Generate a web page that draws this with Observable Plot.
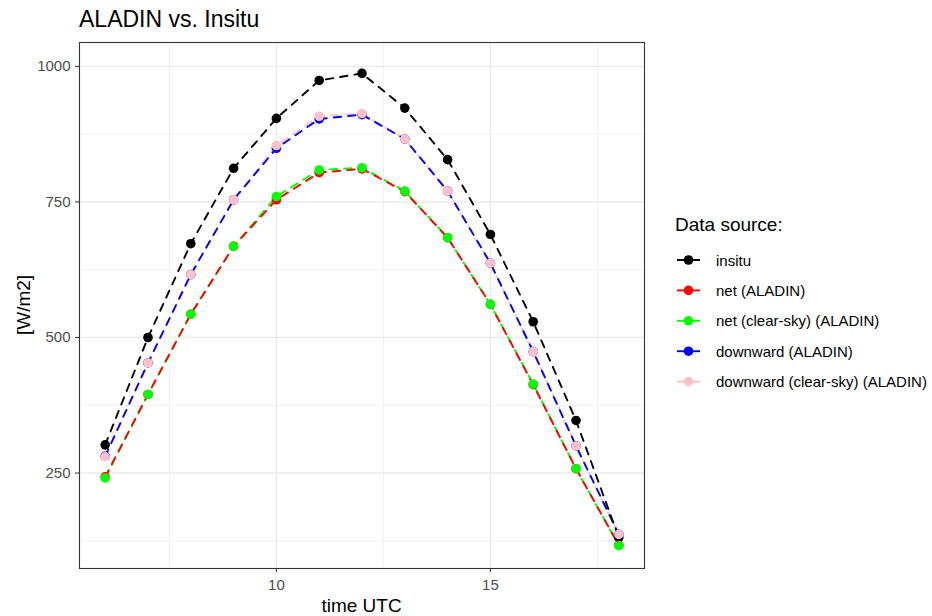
<!DOCTYPE html>
<html>
<head>
<meta charset="utf-8">
<script src="https://cdn.jsdelivr.net/npm/d3@7"></script>
<script src="https://cdn.jsdelivr.net/npm/@observablehq/plot@0.6"></script>
<style>
  body { margin: 0; background: #fff; }
  #wrap { position: relative; width: 932px; height: 616px; overflow: hidden; background: #fff; }
  #wrap svg { position: absolute; left: 0; top: 0; }
</style>
</head>
<body>
<div id="wrap"></div>
<script>
// ---- data ----
const hours = [6, 7, 8, 9, 10, 11, 12, 13, 14, 15, 16, 17, 18];
const insitu       = [302, 500, 673, 812, 904, 974, 987, 923, 828, 690, 529, 347, 131];
const netAladin    = [243, 395, 543, 668, 754, 804, 811, 769, 684, 561, 413, 258, 117];
const netClearSky  = [241, 395, 543, 668, 760, 809, 813, 770, 684, 561, 414, 258, 116];
const downAladin   = [281, 453, 616, 754, 849, 903, 911, 866, 770, 637, 474, 300, 137];
const downClearSky = [280, 453, 616, 754, 854, 908, 913, 866, 770, 637, 474, 300, 137];
const seriesNames = ["insitu", "net (ALADIN)", "net (clear-sky) (ALADIN)", "downward (ALADIN)", "downward (clear-sky) (ALADIN)"];
const seriesValues = [insitu, netAladin, netClearSky, downAladin, downClearSky];
const seriesColors = ["#000000", "#FF0000", "#00FF00", "#0000FF", "#FFC0CB"];
const yTicks = [250, 500, 750, 1000];
const yMinor = [125, 375, 625, 875];
const xTicks = [10, 15];
const xMinor = [7.5, 12.5, 17.5];
const titleText = "ALADIN vs. Insitu";
const xLabel = "time UTC";
const yLabel = "[W/m2]";
const legendTitle = "Data source:";

// ---- long tables ----
const table = [];
seriesNames.forEach((name, i) => {
  hours.forEach((h, j) => table.push({hour: h, value: seriesValues[i][j], series: name}));
});
// lines are drawn in reverse series order (later series underneath), points in legend order
const lineTable = [];
seriesNames.slice().reverse().forEach((name) => {
  const i = seriesNames.indexOf(name);
  hours.forEach((h, j) => lineTable.push({hour: h, value: seriesValues[i][j], series: name}));
});

const FONT = "'Liberation Sans', Arial, Helvetica, sans-serif";

const chart = Plot.plot({
  width: 932,
  height: 616,
  marginLeft: 79,
  marginRight: 288,
  marginTop: 42,
  marginBottom: 48,
  x: {domain: [5.4, 18.6]},
  y: {domain: [74, 1044]},
  color: {domain: seriesNames, range: seriesColors},
  style: {fontFamily: FONT, fontSize: "15px", background: "white"},
  marks: [
    Plot.ruleY(yMinor, {stroke: "#EBEBEB", strokeWidth: 0.7}),
    Plot.ruleX(xMinor, {stroke: "#EBEBEB", strokeWidth: 0.7}),
    Plot.ruleY(yTicks, {stroke: "#EBEBEB", strokeWidth: 1.4}),
    Plot.ruleX(xTicks, {stroke: "#EBEBEB", strokeWidth: 1.4}),
    Plot.line(lineTable, {x: "hour", y: "value", z: "series", stroke: "series", strokeWidth: 1.9, strokeDasharray: "7.5,7"}),
    Plot.dot(table, {x: "hour", y: "value", fill: "series", r: 4.8}),
    Plot.frame({stroke: "#333333", strokeWidth: 1.1}),
    Plot.axisY(yTicks, {tickSize: 4, tickPadding: 5, stroke: "#333333", fill: "#4D4D4D", label: null, fontSize: 15, tickFormat: d => String(d)}),
    Plot.axisX(xTicks, {tickSize: 4, tickPadding: 7, stroke: "#333333", fill: "#4D4D4D", label: null, fontSize: 15, tickFormat: d => String(d)})
  ]
});
document.getElementById("wrap").appendChild(chart);

// ---- overlay: title, axis titles, legend ----
const ov = d3.select("#wrap").append("svg")
  .attr("width", 932).attr("height", 616)
  .style("font-family", FONT);

ov.append("text").attr("x", 79).attr("y", 27)
  .attr("font-size", 23).attr("fill", "#000").text(titleText);

ov.append("text").attr("x", 361.5).attr("y", 611.5)
  .attr("text-anchor", "middle").attr("font-size", 19).attr("fill", "#000").text(xLabel);

ov.append("text").attr("transform", "translate(29.5,305) rotate(-90)")
  .attr("text-anchor", "middle").attr("font-size", 19).attr("fill", "#000").text(yLabel);

ov.append("text").attr("x", 675).attr("y", 231)
  .attr("font-size", 19).attr("fill", "#000").text(legendTitle);

const items = ov.append("g").selectAll("g").data(seriesNames).join("g")
  .attr("transform", (d, i) => `translate(0,${260 + i * 30.4})`);
items.append("line").attr("x1", 677).attr("x2", 700).attr("y1", 0).attr("y2", 0)
  .attr("stroke", (d, i) => seriesColors[i]).attr("stroke-width", 1.9);
items.append("circle").attr("cx", 688.5).attr("cy", 0).attr("r", 4.8)
  .attr("fill", (d, i) => seriesColors[i]);
items.append("text").attr("x", 716).attr("y", 5.6)
  .attr("font-size", 15).attr("fill", "#000").text(d => d);
</script>
</body>
</html>
